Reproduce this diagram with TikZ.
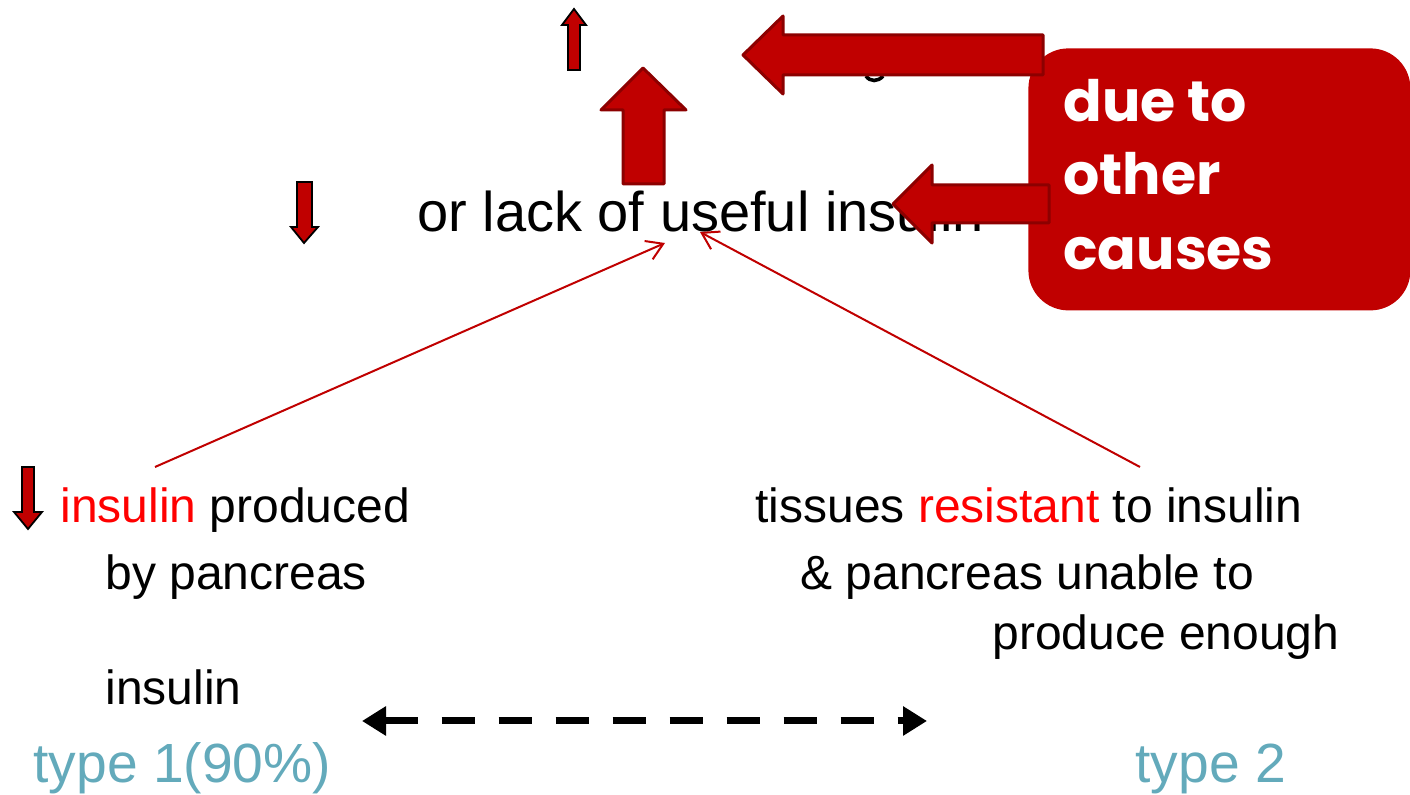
\documentclass[tikz,border=0pt]{standalone}
\usepackage{fontspec}
\setmainfont{Liberation Sans}
\newfontfamily\boxfont{Poppins}
\usepackage{xcolor}
\usepackage{tikz}
\usetikzlibrary{arrows.meta,positioning}
\definecolor{arrowred}{RGB}{192, 0, 0}
\definecolor{arrowdark}{RGB}{140, 0, 0}
\definecolor{boxred}{RGB}{192, 0, 0}
\definecolor{txtred}{RGB}{255, 0, 0}
\definecolor{typeteal}{RGB}{99, 170, 187}

\begin{document}
\begin{tikzpicture}[x=0.5pt, y=-0.5pt,
    blockarrow/.style={fill=arrowred, draw=arrowdark, line width=1.5pt, line join=round},
    smallarrow/.style={fill=arrowred, draw=black, line width=0.9pt, line join=miter},
    bigtext/.style={anchor=base west, inner sep=0, font=\fontsize{28}{34}\selectfont},
    bodytext/.style={anchor=base west, inner sep=0, font=\fontsize{24}{29}\selectfont},
    typetext/.style={anchor=base west, inner sep=0, text=typeteal, font=\fontsize{27.6}{32}\selectfont},
    boxtext/.style={anchor=base west, inner sep=0, text=white, font=\boxfont\bfseries\fontsize{28.5}{35}\selectfont},
    thinlink/.style={draw=arrowred, line width=1pt, -{Straight Barb[length=8pt, width=10pt]}}]
    \useasboundingbox (0,0) rectangle (1410,795);

    % red box with other causes
    \node [fill=boxred, rounded corners=20pt, minimum width=191pt, minimum height=131pt,
        anchor=north west, inner sep=0] (causes) at (1028,48) {};
    \node [boxtext] (due) at (1063,122) {due to};
    \node [boxtext] (other) at (1063,195) {other};
    \node [boxtext] (cause) at (1063,270) {causes};

    % hidden text under the top arrow
    \draw [line width=1.8pt] (866,76) .. controls (870,82) and (878,82) .. (883,76);

    % main line
    \node [bigtext] (lack) at (417,232) {or lack of useful insulin};

    % block arrows
    \draw [smallarrow] (574,9) -- (586,25) -- (580,25) -- (580,70) -- (568,70) -- (568,25) -- (562,25) -- cycle;
    \draw [blockarrow] (643,68) -- (686,110) -- (664,110) -- (664,184) -- (623,184) -- (623,110) -- (601,110) -- cycle;
    \draw [blockarrow] (743,55) -- (783,16) -- (783,35) -- (1043,35) -- (1043,75) -- (783,75) -- (783,94) -- cycle;
    \draw [blockarrow] (893,204) -- (932,165) -- (932,185) -- (1049,185) -- (1049,223) -- (932,223) -- (932,243) -- cycle;
    \draw [smallarrow] (304,243) -- (318,227) -- (312,227) -- (312,182) -- (297,182) -- (297,227) -- (291,227) -- cycle;
    \draw [smallarrow] (28,529) -- (42,512) -- (34,512) -- (34,467) -- (22,467) -- (22,512) -- (14,512) -- cycle;

    % causes
    \node [bodytext] (prod) at (60,523) {\textcolor{txtred}{insulin} produced};
    \node [bodytext] (panc) at (105,590) {by pancreas};
    \node [bodytext] (ins) at (105,705) {insulin};
    \node [bodytext] (tiss) at (755,523) {tissues \textcolor{txtred}{resistant} to insulin};
    \node [bodytext] (unable) at (800,590) {\& pancreas unable to};
    \node [bodytext] (enough) at (992,650) {produce enough};

    \node [typetext] (type1) at (33,783) {type 1(90\%)};
    \node [typetext] (type2) at (1135,783) {type 2};

    % links to the main line
    \coordinate (fromleft) at (155,467);
    \coordinate (toleft) at (665,243);
    \coordinate (fromright) at (1140,467);
    \coordinate (toright) at (700,232);
    \draw [thinlink] (fromleft) -- (toleft);
    \draw [thinlink] (fromright) -- (toright);

    % between the types
    \coordinate (spanl) at (362,721);
    \coordinate (spanr) at (927,721);
    \draw [line width=3.5pt, dash pattern=on 16.5pt off 12pt, {Triangle[length=12pt, width=14pt]}-{Triangle[length=12pt, width=14pt]}] (spanl) -- (spanr);
\end{tikzpicture}
\end{document}
